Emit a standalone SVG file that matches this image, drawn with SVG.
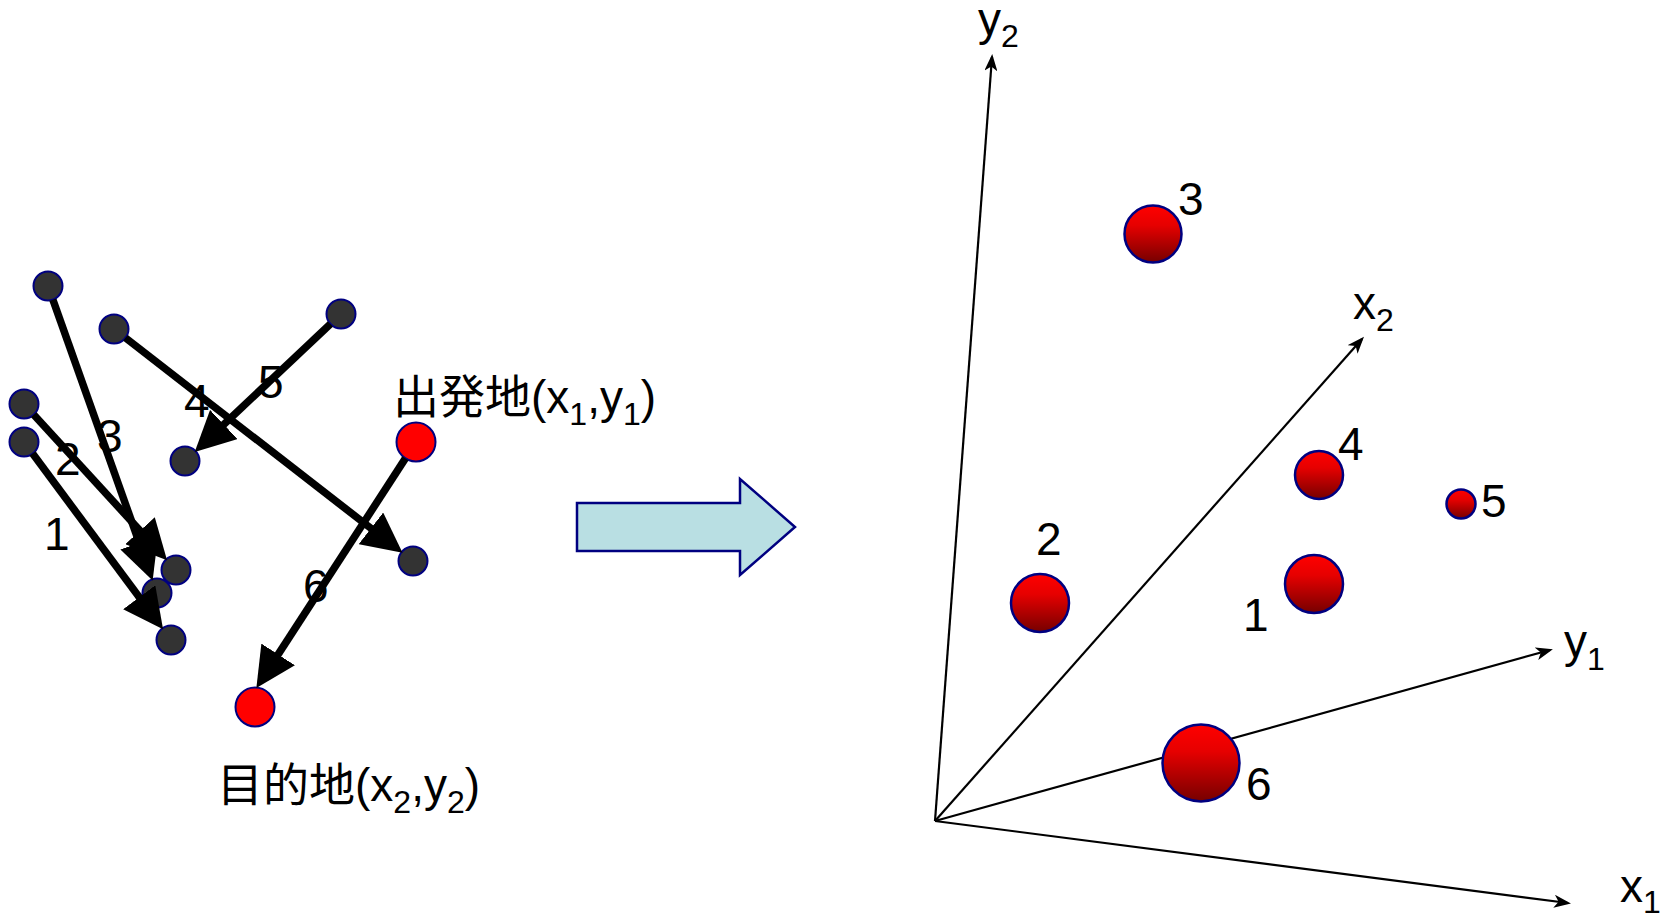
<svg xmlns="http://www.w3.org/2000/svg" width="1667" height="917" viewBox="0 0 1667 917">
<style>
.lbl{font-family:"Liberation Sans","Noto Sans CJK JP",Arial,sans-serif;font-size:46px;fill:#000}
.sub{font-size:32px}
.dark{fill:#333333;stroke:#000080;stroke-width:2}
.red{fill:#ff0000;stroke:#000080;stroke-width:2}
.ball{fill:url(#ballGrad);stroke:#000080;stroke-width:2.5}
.flow{stroke:#000;stroke-width:7.5;fill:none;marker-end:url(#bigHead)}
.axis{stroke:#000;stroke-width:2.2;fill:none;marker-end:url(#axHead)}
</style>
<defs>
<linearGradient id="ballGrad" x1="0" y1="0" x2="0" y2="1">
<stop offset="0" stop-color="#ff0000"/>
<stop offset="0.35" stop-color="#e60000"/>
<stop offset="1" stop-color="#760000"/>
</linearGradient>
<marker id="bigHead" markerUnits="userSpaceOnUse" markerWidth="40" markerHeight="40" viewBox="0 0 37 37" refX="22" refY="18.5" orient="auto">
<path d="M0,0 L37,18.5 L0,37 z" fill="#000"/>
</marker>
<marker id="axHead" markerUnits="userSpaceOnUse" markerWidth="17" markerHeight="13" viewBox="0 0 17 13" refX="14" refY="6.5" orient="auto">
<path d="M0,0 L17,6.5 L0,13 L4.5,6.5 z" fill="#000"/>
</marker>
</defs>
<rect width="1667" height="917" fill="#fff"/>

<g id="flow-labels">
<text class="lbl" x="44" y="550">1</text>
<text class="lbl" x="55" y="475">2</text>
<text class="lbl" x="97" y="452">3</text>
<text class="lbl" x="184" y="417">4</text>
<text class="lbl" x="258" y="398">5</text>
<text class="lbl" x="303" y="602">6</text>
</g>

<g id="o3"><circle class="dark" cx="48" cy="286" r="14.5"/></g>
<g id="o4"><circle class="dark" cx="114" cy="329" r="14.5"/></g>
<g id="o5"><circle class="dark" cx="341" cy="314" r="14.5"/></g>
<g id="o2"><circle class="dark" cx="24" cy="404" r="14.5"/></g>
<g id="o1"><circle class="dark" cx="24" cy="442" r="14.5"/></g>
<g id="d5"><circle class="dark" cx="185" cy="461" r="14.5"/></g>
<g id="d4"><circle class="dark" cx="413" cy="561" r="14.5"/></g>
<g id="d2"><circle class="dark" cx="176" cy="570" r="14.5"/></g>
<g id="d3"><circle class="dark" cx="157" cy="593" r="14.5"/></g>
<g id="d1"><circle class="dark" cx="171" cy="640" r="14.5"/></g>
<g id="o6"><circle class="red" cx="416" cy="442" r="19.5"/></g>
<g id="d6"><circle class="red" cx="255" cy="707" r="19.5"/></g>

<g id="flows">
<line class="flow" x1="32.6" y1="453.6" x2="153.4" y2="616.3"/>
<line class="flow" x1="33.8" y1="414.7" x2="156.1" y2="548.2"/>
<line class="flow" x1="52.9" y1="299.7" x2="147.2" y2="565.2"/>
<line class="flow" x1="125.5" y1="337.9" x2="389.7" y2="542.9"/>
<line class="flow" x1="330.4" y1="323.9" x2="206.5" y2="440.8"/>
<line class="flow" x1="405.4" y1="458.4" x2="265.2" y2="674.4"/>
</g>

<g id="label-origin">
<text class="lbl" x="393" y="413">出発地(x<tspan class="sub" dy="12">1</tspan><tspan dy="-12">,y</tspan><tspan class="sub" dy="12">1</tspan><tspan dy="-12">)</tspan></text>
</g>
<g id="label-dest">
<text class="lbl" x="217" y="801">目的地(x<tspan class="sub" dy="12">2</tspan><tspan dy="-12">,y</tspan><tspan class="sub" dy="12">2</tspan><tspan dy="-12">)</tspan></text>
</g>

<g id="transform-arrow">
<polygon points="577,503 740,503 740,479 795,527 740,575 740,551 577,551" fill="#b9dfe3" stroke="#000080" stroke-width="2.5"/>
</g>

<g id="axes">
<line class="axis" x1="935" y1="821" x2="992" y2="57"/>
<line class="axis" x1="935" y1="821" x2="1362" y2="339"/>
<line class="axis" x1="935" y1="821" x2="1550" y2="650"/>
<line class="axis" x1="935" y1="821" x2="1568" y2="903"/>
</g>
<g id="axis-labels">
<text class="lbl" x="978" y="35">y<tspan class="sub" dy="12">2</tspan></text>
<text class="lbl" x="1353" y="319">x<tspan class="sub" dy="12">2</tspan></text>
<text class="lbl" x="1564" y="657">y<tspan class="sub" dy="13">1</tspan></text>
<text class="lbl" x="1620" y="902">x<tspan class="sub" dy="11">1</tspan></text>
</g>

<g id="p3"><circle class="ball" cx="1153" cy="234" r="28.5"/><text class="lbl" x="1178" y="215">3</text></g>
<g id="p4"><circle class="ball" cx="1319" cy="475" r="24"/><text class="lbl" x="1338" y="460">4</text></g>
<g id="p5"><circle class="ball" cx="1461" cy="504" r="14.5"/><text class="lbl" x="1481" y="517">5</text></g>
<g id="p2"><circle class="ball" cx="1040" cy="603" r="29"/><text class="lbl" x="1036" y="555">2</text></g>
<g id="p1"><circle class="ball" cx="1314" cy="584" r="29"/><text class="lbl" x="1243" y="631">1</text></g>
<g id="p6"><circle class="ball" cx="1201" cy="763" r="38.5"/><text class="lbl" x="1246" y="800">6</text></g>
</svg>
